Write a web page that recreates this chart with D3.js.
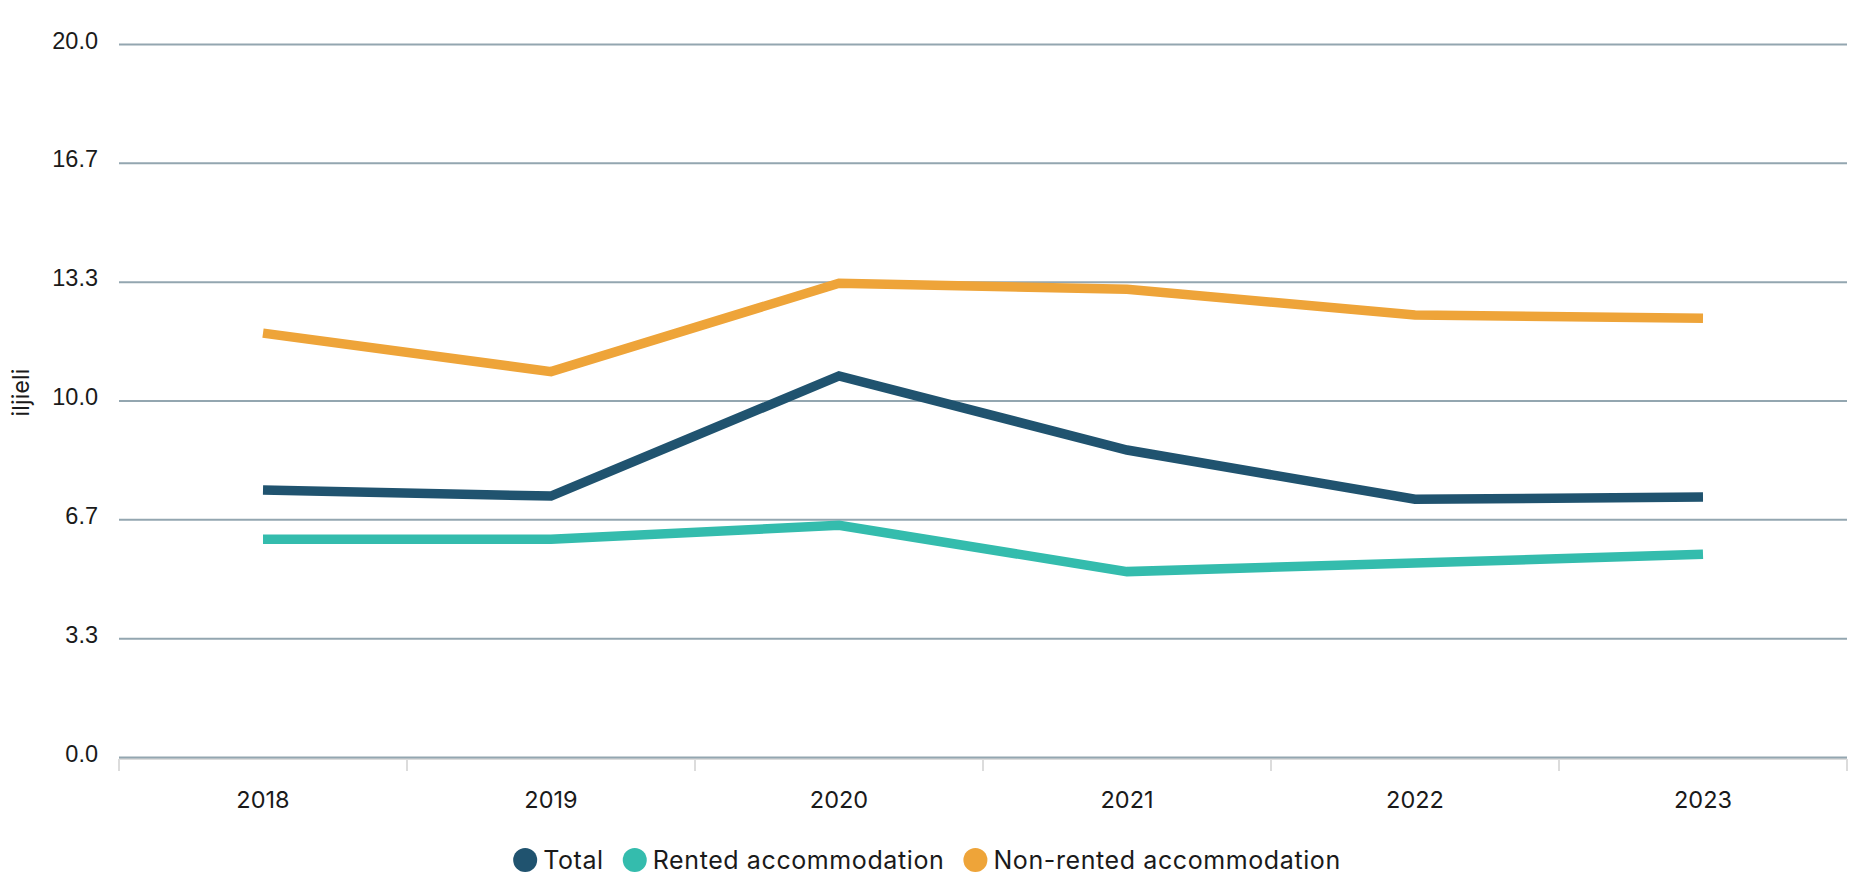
<!DOCTYPE html>
<html>
<head>
<meta charset="utf-8">
<script src="https://cdn.jsdelivr.net/npm/d3@7"></script>
<style>
  html, body { margin: 0; padding: 0; background: #fff; }
  svg { display: block; font-family: Inter, "Open Sans", sans-serif; }
</style>
</head>
<body>
<div id="chart"></div>
<script>
const years = ["2018", "2019", "2020", "2021", "2022", "2023"];
const total = [7.49, 7.32, 10.69, 8.61, 7.23, 7.29];
const rented = [6.11, 6.11, 6.50, 5.20, 5.44, 5.69];
const non_rented = [11.89, 10.81, 13.29, 13.12, 12.40, 12.31];
const y_ticks = [0, 3.33, 6.67, 10, 13.33, 16.67, 20];
const y_title = "iljieli";

const series = [
  {name: "Total", values: total, color: "#20536f"},
  {name: "Rented accommodation", values: rented, color: "#34bcad"},
  {name: "Non-rented accommodation", values: non_rented, color: "#eea439"}
];

const __CONFIG__ = {
  width: 1854,
  height: 880,
  margin: {top: 44, right: 7, bottom: 123, left: 119},
  font_size: 23.5,
  legend_font_size: 25,
  text_color: "#1a1a1a",
  grid_color: "#93a6b0"
};

function draw(config=__CONFIG__) {
  const {width, height, margin} = config;
  const inner_w = width - margin.left - margin.right;
  const inner_h = height - margin.top - margin.bottom;

  const svg = d3.select("#chart").append("svg")
      .attr("width", width)
      .attr("height", height);

  const g = svg.append("g")
      .attr("transform", `translate(${margin.left},${margin.top})`);

  const x = d3.scaleBand()
      .domain(years)
      .range([0, inner_w])
      .padding(0);

  const y = d3.scaleLinear()
      .domain([0, 20])
      .range([inner_h, 0]);

  // x axis: light domain + ticks on band edges
  const x_axis = g.append("g")
      .classed("x-axis", true)
      .attr("transform", `translate(0,${inner_h + 2})`);
  x_axis.append("line")
      .attr("x1", 0).attr("x2", inner_w)
      .attr("stroke", "#dcdcdc")
      .attr("stroke-width", 2);
  const edges = years.map(d => x(d)).concat([x.range()[1]]);
  x_axis.selectAll("line.tick")
    .data(edges)
    .join("line")
      .classed("tick", true)
      .attr("x1", d => d).attr("x2", d => d)
      .attr("y1", 0).attr("y2", 12)
      .attr("stroke", "#dcdcdc")
      .attr("stroke-width", 2);
  x_axis.selectAll("text")
    .data(years)
    .join("text")
      .attr("x", d => x(d) + x.bandwidth() / 2)
      .attr("y", 49)
      .attr("text-anchor", "middle")
      .attr("font-size", config.font_size)
      .attr("fill", config.text_color)
      .text(d => d);

  // y axis with gridlines
  const y_axis = g.append("g")
      .classed("y-axis", true)
      .call(d3.axisLeft(y)
        .tickValues(y_ticks)
        .tickSize(-inner_w)
        .tickPadding(21)
        .tickFormat(d3.format(".1f")));
  y_axis.select(".domain").remove();
  y_axis.selectAll(".tick line")
      .attr("stroke", config.grid_color)
      .attr("stroke-width", 2);
  y_axis.selectAll(".tick text")
      .attr("font-size", config.font_size)
      .attr("fill", config.text_color)
      .attr("dy", null)
      .attr("y", 4)
      .attr("dominant-baseline", "alphabetic")
      .style("font-family", "inherit");

  svg.append("text")
      .attr("transform", `translate(20,${margin.top + inner_h / 2 - 8}) rotate(-90)`)
      .attr("text-anchor", "middle")
      .attr("dominant-baseline", "central")
      .attr("font-size", config.font_size)
      .attr("fill", config.text_color)
      .text(y_title);

  // lines
  const line = d3.line()
      .x((d, i) => x(years[i]) + x.bandwidth() / 2)
      .y(d => y(d));

  g.append("g")
      .classed("lines", true)
    .selectAll("path")
    .data(series)
    .join("path")
      .attr("d", d => line(d.values))
      .attr("fill", "none")
      .attr("stroke", d => d.color)
      .attr("stroke-width", 9.5)
      .attr("stroke-linejoin", "miter")
      .attr("stroke-linecap", "butt");

  // legend, centred on the page
  const legend = svg.append("g").classed("legend", true);
  const items = legend.selectAll("g")
    .data(series)
    .join("g");
  items.append("circle")
      .attr("r", 12)
      .attr("cx", 12)
      .attr("cy", 0)
      .attr("fill", d => d.color);
  items.append("text")
      .attr("x", 30)
      .attr("y", 0)
      .attr("dominant-baseline", "central")
      .attr("font-size", config.legend_font_size)
      .attr("letter-spacing", 0.6)
      .attr("fill", config.text_color)
      .text(d => d.name);

  let offset = 0;
  const gap = 19;
  items.each(function() {
    const w = 30 + d3.select(this).select("text").node().getComputedTextLength();
    d3.select(this).attr("transform", `translate(${offset},0)`);
    offset += w + gap;
  });
  const legend_w = offset - gap;
  legend.attr("transform", `translate(${(width - legend_w) / 2},860)`);
}

draw();
</script>
</body>
</html>
